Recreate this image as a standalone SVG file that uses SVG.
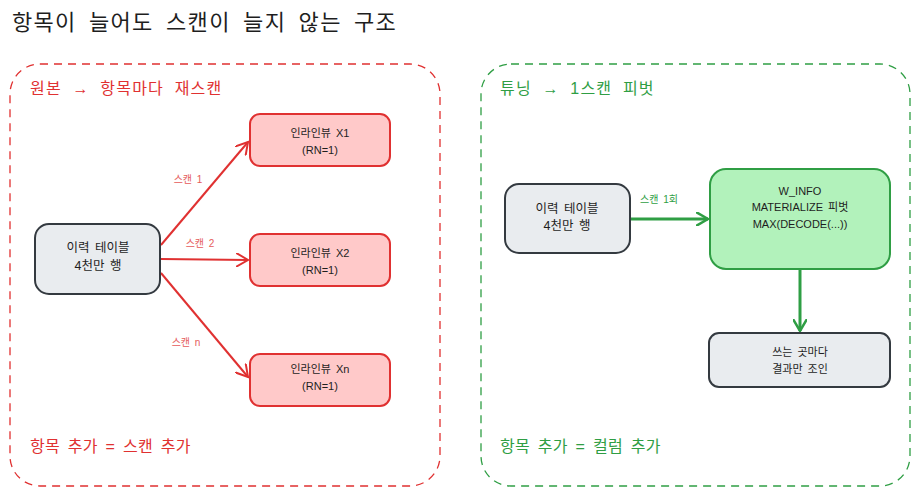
<svg xmlns="http://www.w3.org/2000/svg" width="920" height="494" viewBox="0 0 920 494">
<style>
text{font-family:"Liberation Sans","Noto Sans CJK KR",sans-serif}
.title{font-size:22px;fill:#1e1e1e;word-spacing:5px;letter-spacing:1.3px}
.frameR{fill:none;stroke:#e03131;stroke-width:1.3;stroke-dasharray:8 6}
.frameG{fill:none;stroke:#2f9e44;stroke-width:1.3;stroke-dasharray:8 6}
.hR{font-size:16px;fill:#e03131;word-spacing:5px;letter-spacing:1.2px}
.hG{font-size:16px;fill:#2f9e44;word-spacing:5px;letter-spacing:1.2px}
.fR{font-size:16px;fill:#e03131;word-spacing:3px;letter-spacing:0.3px}
.fG{font-size:16px;fill:#2f9e44;word-spacing:3px;letter-spacing:0.3px}
.gray{fill:#e9ecef;stroke:#343a40;stroke-width:2}
.red{fill:#ffc9c9;stroke:#e03131;stroke-width:2}
.green{fill:#b2f2bb;stroke:#2f9e44;stroke-width:2}
.nt{font-size:12.5px;fill:#1e1e1e;text-anchor:middle;word-spacing:2px}
.st{font-size:11px;fill:#1e1e1e;text-anchor:middle;word-spacing:2px}
.lR{font-size:10px;fill:#e03131;text-anchor:middle;opacity:.8;word-spacing:2px}
.lG{font-size:10px;fill:#2f9e44;text-anchor:middle;word-spacing:2px}
.eR{stroke:#e03131;stroke-width:2;fill:none}
.eG{stroke:#2f9e44;stroke-width:3;fill:none}
</style>
<defs>
<marker id="aR" markerWidth="14" markerHeight="14" refX="12" refY="7" orient="auto" markerUnits="userSpaceOnUse"><path d="M0,0 L12,7 L0,14" fill="none" stroke="#e03131" stroke-width="2"/></marker>
<marker id="aG" markerWidth="14" markerHeight="14" refX="12" refY="7" orient="auto" markerUnits="userSpaceOnUse"><path d="M0,0 L12,7 L0,14" fill="none" stroke="#2f9e44" stroke-width="2.5"/></marker>
</defs>
<text class="title" x="12" y="30">항목이 늘어도 스캔이 늘지 않는 구조</text>

<g id="frame-left">
<rect class="frameR" x="10" y="64" width="430" height="422" rx="30"/>
<text class="hR" x="30" y="94">원본 → 항목마다 재스캔</text>
<text class="fR" x="30" y="452">항목 추가 = 스캔 추가</text>
</g>
<g id="frame-right">
<rect class="frameG" x="481" y="64" width="429" height="422" rx="30"/>
<text class="hG" x="500" y="94">튜닝 → 1스캔 피벗</text>
<text class="fG" x="500" y="452">항목 추가 = 컬럼 추가</text>
</g>

<g id="connectors">
<path class="eR" d="M161,245 L248,142" marker-end="url(#aR)"/>
<path class="eR" d="M161,259 L248,260" marker-end="url(#aR)"/>
<path class="eR" d="M161,273 L248,377" marker-end="url(#aR)"/>
<text class="lR" x="188" y="183">스캔 1</text>
<text class="lR" x="200" y="247">스캔 2</text>
<text class="lR" x="186" y="346">스캔 n</text>
<path class="eG" d="M631,219 L708,219" marker-end="url(#aG)"/>
<text class="lG" x="659" y="203">스캔 1회</text>
<path class="eG" d="M800,269 L800,331" marker-end="url(#aG)"/>
</g>

<g id="src-left">
<rect class="gray" x="35" y="224" width="125" height="70" rx="14"/>
<text class="nt" x="98" y="252">이력 테이블</text>
<text class="nt" x="98" y="270">4천만 행</text>
</g>
<g id="view1">
<rect class="red" x="250" y="114" width="140" height="52" rx="10"/>
<text class="st" x="320" y="137">인라인뷰 X1</text>
<text class="st" x="320" y="154">(RN=1)</text>
</g>
<g id="view2">
<rect class="red" x="250" y="234" width="140" height="52" rx="10"/>
<text class="st" x="320" y="257">인라인뷰 X2</text>
<text class="st" x="320" y="274">(RN=1)</text>
</g>
<g id="viewn">
<rect class="red" x="250" y="354" width="140" height="52" rx="10"/>
<text class="st" x="320" y="373">인라인뷰 Xn</text>
<text class="st" x="320" y="390">(RN=1)</text>
</g>

<g id="src-right">
<rect class="gray" x="505" y="184" width="125" height="69" rx="14"/>
<text class="nt" x="567" y="213">이력 테이블</text>
<text class="nt" x="567" y="230">4천만 행</text>
</g>
<g id="winfo">
<rect class="green" x="710" y="169" width="180" height="100" rx="16"/>
<text class="st" x="800" y="195">W_INFO</text>
<text class="st" x="800" y="211">MATERIALIZE 피벗</text>
<text class="st" x="800" y="228">MAX(DECODE(...))</text>
</g>
<g id="join">
<rect class="gray" x="709" y="333" width="181" height="54" rx="10"/>
<text class="st" x="800" y="356">쓰는 곳마다</text>
<text class="st" x="800" y="373">결과만 조인</text>
</g>
</svg>
